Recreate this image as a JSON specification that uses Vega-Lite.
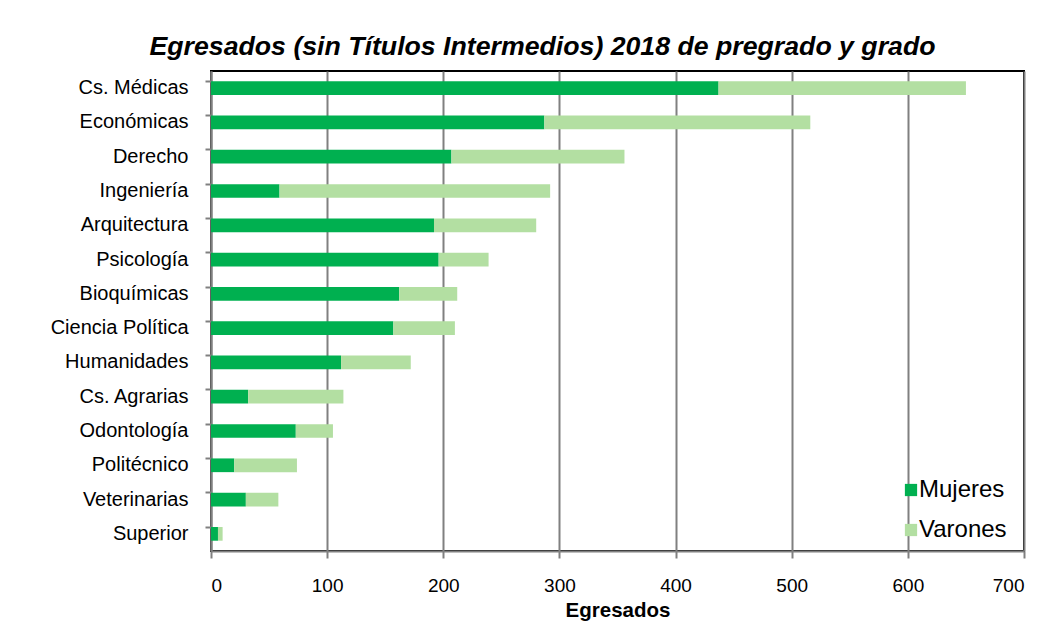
{
  "$schema": "https://vega.github.io/schema/vega-lite/v6.json",
  "autosize": {"type": "none"},
  "padding": {"left": 211, "top": 71, "right": 34, "bottom": 72},
  "width": 813,
  "height": 480,
  "background": "white",
  "title": {
    "text": "Egresados (sin Títulos Intermedios) 2018 de pregrado y grado",
    "font": "Liberation Sans",
    "fontSize": 26.7,
    "fontWeight": "bold",
    "fontStyle": "italic",
    "color": "black",
    "anchor": "middle",
    "dx": -75,
    "offset": 10
  },
  "data": {
    "values": [
      {"area": "Cs. Médicas", "sexo": "Mujeres", "n": 437},
      {"area": "Cs. Médicas", "sexo": "Varones", "n": 213},
      {"area": "Económicas", "sexo": "Mujeres", "n": 287},
      {"area": "Económicas", "sexo": "Varones", "n": 229},
      {"area": "Derecho", "sexo": "Mujeres", "n": 207},
      {"area": "Derecho", "sexo": "Varones", "n": 149},
      {"area": "Ingeniería", "sexo": "Mujeres", "n": 59},
      {"area": "Ingeniería", "sexo": "Varones", "n": 233},
      {"area": "Arquitectura", "sexo": "Mujeres", "n": 192},
      {"area": "Arquitectura", "sexo": "Varones", "n": 88},
      {"area": "Psicología", "sexo": "Mujeres", "n": 196},
      {"area": "Psicología", "sexo": "Varones", "n": 43},
      {"area": "Bioquímicas", "sexo": "Mujeres", "n": 162},
      {"area": "Bioquímicas", "sexo": "Varones", "n": 50},
      {"area": "Ciencia Política", "sexo": "Mujeres", "n": 157},
      {"area": "Ciencia Política", "sexo": "Varones", "n": 53},
      {"area": "Humanidades", "sexo": "Mujeres", "n": 112},
      {"area": "Humanidades", "sexo": "Varones", "n": 60},
      {"area": "Cs. Agrarias", "sexo": "Mujeres", "n": 32},
      {"area": "Cs. Agrarias", "sexo": "Varones", "n": 82},
      {"area": "Odontología", "sexo": "Mujeres", "n": 73},
      {"area": "Odontología", "sexo": "Varones", "n": 32},
      {"area": "Politécnico", "sexo": "Mujeres", "n": 20},
      {"area": "Politécnico", "sexo": "Varones", "n": 54},
      {"area": "Veterinarias", "sexo": "Mujeres", "n": 30},
      {"area": "Veterinarias", "sexo": "Varones", "n": 28},
      {"area": "Superior", "sexo": "Mujeres", "n": 6},
      {"area": "Superior", "sexo": "Varones", "n": 4}
    ]
  },
  "mark": {"type": "bar"},
  "encoding": {
    "y": {
      "field": "area",
      "type": "nominal",
      "sort": ["Cs. Médicas", "Económicas", "Derecho", "Ingeniería", "Arquitectura", "Psicología", "Bioquímicas", "Ciencia Política", "Humanidades", "Cs. Agrarias", "Odontología", "Politécnico", "Veterinarias", "Superior"],
      "scale": {"paddingInner": 0.6, "paddingOuter": 0.3},
      "axis": {
        "title": null,
        "bandPosition": 0,
        "labelFont": "Liberation Sans",
        "labelFontSize": 20,
        "labelColor": "black",
        "labelPadding": 17,
        "tickColor": "#808080",
        "tickWidth": 2,
        "tickSize": 6,
        "domainColor": "#808080",
        "domainWidth": 2,
        "grid": false
      }
    },
    "x": {
      "field": "n",
      "type": "quantitative",
      "stack": "zero",
      "scale": {"domain": [0, 700], "nice": false},
      "axis": {
        "title": "Egresados",
        "titleFont": "Liberation Sans",
        "titleFontSize": 20.5,
        "titleFontWeight": "bold",
        "titleColor": "black",
        "titlePadding": 5,
        "values": [0, 100, 200, 300, 400, 500, 600, 700],
        "labelFont": "Liberation Sans",
        "labelFontSize": 19,
        "labelColor": "black",
        "labelPadding": 18,
        "tickColor": "#808080",
        "tickWidth": 2,
        "tickSize": 7,
        "domainColor": "#808080",
        "domainWidth": 2,
        "grid": true,
        "gridColor": "#808080",
        "gridWidth": 2
      }
    },
    "color": {
      "field": "sexo",
      "type": "nominal",
      "scale": {"domain": ["Mujeres", "Varones"], "range": ["#00B050", "#B3DFA2"]},
      "legend": {
        "title": null,
        "orient": "none",
        "legendX": 688,
        "legendY": 407,
        "symbolType": "square",
        "symbolSize": 150,
        "symbolStrokeWidth": 0,
        "labelFont": "Liberation Sans",
        "labelFontSize": 24,
        "labelColor": "black",
        "labelOffset": -4,
        "rowPadding": 16
      }
    },
    "order": {"field": "sexo", "sort": "ascending"}
  },
  "config": {
    "view": {"stroke": "black", "strokeWidth": 2}
  }
}
